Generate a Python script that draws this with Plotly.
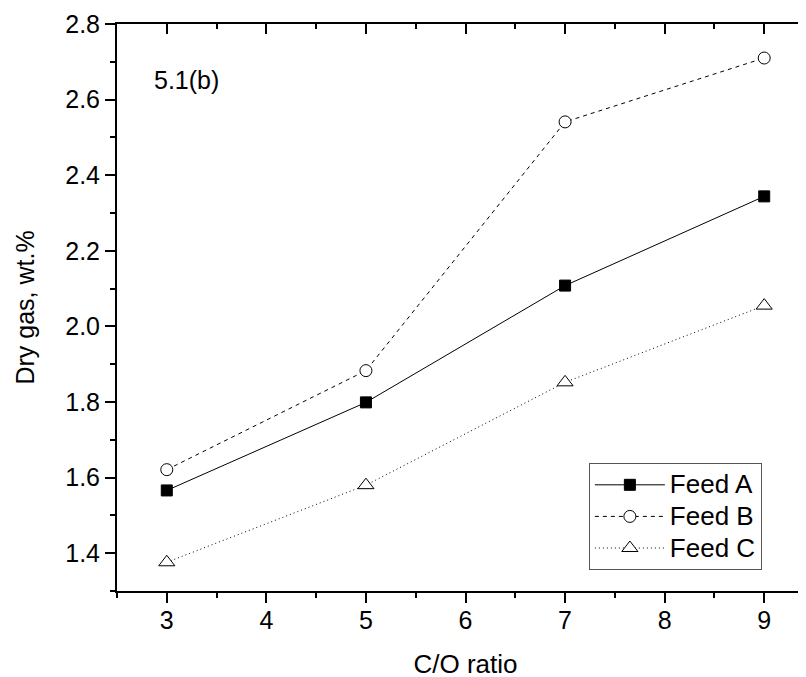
import plotly.graph_objects as go

co_ratio = [3, 5, 7, 9]
feed_a = [1.566, 1.799, 2.108, 2.344]
feed_b = [1.621, 1.883, 2.541, 2.710]
feed_c = [1.376, 1.580, 1.852, 2.055]
series_names = ["Feed A", "Feed B", "Feed C"]

FONT = "Liberation Sans, Arial, sans-serif"
X_RANGE = [2.5, 9.5]
Y_RANGE = [1.3, 2.8]


def legend_label(name):
    return '<span style="font-size:26px">' + name + "</span>"


fig = go.Figure()
fig.add_trace(go.Scatter(
    x=co_ratio, y=feed_a, name=legend_label(series_names[0]), mode="lines+markers",
    line=dict(color="black", width=1, dash="solid"),
    marker=dict(symbol="square", size=11, color="black", line=dict(color="black", width=1)),
))
fig.add_trace(go.Scatter(
    x=co_ratio, y=feed_b, name=legend_label(series_names[1]), mode="lines+markers",
    line=dict(color="black", width=1, dash="4px,4px"),
    marker=dict(symbol="circle", size=12, color="white", line=dict(color="black", width=1)),
))
fig.add_trace(go.Scatter(
    x=co_ratio, y=feed_c, name=legend_label(series_names[2]), mode="lines+markers",
    line=dict(color="black", width=1, dash="1px,3px"),
    marker=dict(symbol="triangle-up", size=14, color="white", line=dict(color="black", width=1)),
))
# helper trace so the mirrored axes (top / right) are drawn
fig.add_trace(go.Scatter(x=[None], y=[None], xaxis="x2", yaxis="y2",
                         showlegend=False, hoverinfo="skip", mode="lines"))

tickfont = dict(family=FONT, size=25, color="black")

fig.update_layout(
    template="none",
    width=806, height=677,
    paper_bgcolor="white", plot_bgcolor="white",
    margin=dict(l=109, r=0, t=16, b=94, autoexpand=False),
    font=dict(family=FONT, size=25, color="black"),
    xaxis=dict(
        range=X_RANGE, tick0=3, dtick=1, ticks="outside", ticklen=10, tickwidth=1.5,
        tickcolor="black", showline=True, linewidth=2, linecolor="black",
        minor=dict(dtick=0.5, ticks="outside", ticklen=5, tickwidth=1.5, tickcolor="black", showgrid=False),
        title=dict(text="C/O ratio", font=dict(family=FONT, size=26), standoff=22),
        tickfont=tickfont, showgrid=False, zeroline=False, automargin=False,
        ticklabelstandoff=-4,
    ),
    yaxis=dict(
        range=Y_RANGE, tick0=1.4, dtick=0.2, tickformat=".1f", ticks="outside", ticklen=10,
        tickwidth=1.5, tickcolor="black", showline=True, linewidth=2, linecolor="black",
        minor=dict(dtick=0.1, ticks="outside", ticklen=5, tickwidth=1.5, tickcolor="black", showgrid=False),
        title=dict(text="Dry gas, wt.%", font=dict(family=FONT, size=25), standoff=23),
        tickfont=tickfont, showgrid=False, zeroline=False, automargin=False,
    ),
    xaxis2=dict(
        overlaying="x", side="top", range=X_RANGE, tick0=3, dtick=1,
        ticks="inside", ticklen=10, tickwidth=1.5, tickcolor="black",
        showline=True, linewidth=2, linecolor="black", showticklabels=False,
        minor=dict(dtick=0.5, ticks="inside", ticklen=5, tickwidth=1.5, tickcolor="black", showgrid=False),
        showgrid=False, zeroline=False, automargin=False,
    ),
    yaxis2=dict(
        overlaying="y", side="right", range=Y_RANGE, tick0=1.4, dtick=0.2,
        ticks="inside", ticklen=10, tickwidth=1.5, tickcolor="black",
        minor=dict(dtick=0.1, ticks="inside", ticklen=5, tickwidth=1.5, tickcolor="black", showgrid=False),
        showline=True, linewidth=2, linecolor="black",
        showticklabels=False, showgrid=False, zeroline=False, automargin=False,
    ),
    legend=dict(
        x=0.677, y=0.2257, xanchor="left", yanchor="top",
        bgcolor="white", bordercolor="#555555", borderwidth=1,
        font=dict(family=FONT, size=22, color="black"),
        itemwidth=70, tracegroupgap=0,
    ),
    annotations=[dict(
        text="5.1(b)", xref="paper", yref="paper", x=0.0503, y=0.901,
        xanchor="left", yanchor="middle", showarrow=False,
        font=dict(family=FONT, size=25, color="black"),
    )],
    showlegend=True,
)

fig.write_html("out.html")
